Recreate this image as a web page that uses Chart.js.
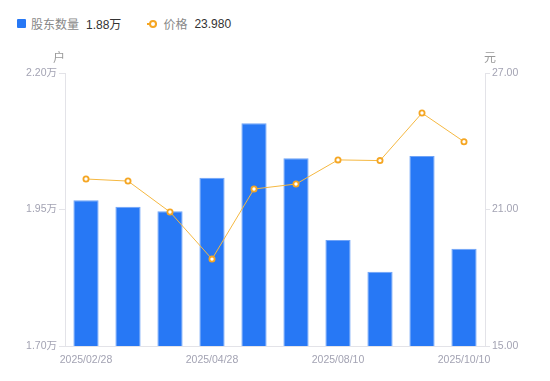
<!DOCTYPE html>
<html>
<head>
<meta charset="utf-8">
<script src="https://cdn.jsdelivr.net/npm/chart.js@4/dist/chart.umd.min.js"></script>
<style>
    html, body { margin: 0; padding: 0; background: #fff; }
    body { width: 550px; height: 381px; position: relative; overflow: hidden;
           font-family: 'Liberation Sans', 'Noto Sans CJK SC', sans-serif; }
    #legend { position: absolute; left: 17px; top: 15px; font-size: 12px; display: flex; align-items: center; }
    #legend .item { display: flex; align-items: center; margin-right: 26px; }
    #legend .name { color: #888; margin-right: 7px; font-family: 'Noto Sans CJK SC', sans-serif; }
    #legend .val { color: #333; }
    #legend .sq { width: 9px; height: 9px; background: #2778F5; border-radius: 1px; margin-right: 5px; }
    #legend .ln { position: relative; width: 10px; height: 2px; background: #F5A623; margin-right: 6px; }
    #legend .ln::after { content: ''; position: absolute; left: 2px; top: -3px; width: 4px; height: 4px;
           border: 2px solid #F5A623; border-radius: 50%; background: #fff; }
    #wrap { position: absolute; left: 0; top: 0; width: 550px; height: 381px; }
</style>
</head>
<body>
<div id="legend">
    <div class="item"><span class="sq"></span><span class="name">股东数量</span><span class="val">1.88万</span></div>
    <div class="item"><span class="ln"></span><span class="name">价格</span><span class="val">23.980</span></div>
</div>
<div id="wrap"><canvas id="chart"></canvas></div>
<script>
const DATES = ['2025/02/28', '2025/03/10', '2025/03/31', '2025/04/28', '2025/05/20',
               '2025/06/30', '2025/08/10', '2025/08/31', '2025/09/30', '2025/10/10'];
const HOLDERS = [1.967, 1.955, 1.947, 2.008, 2.108, 2.044, 1.894, 1.836, 2.048, 1.878];
const PRICES = [22.34, 22.25, 20.89, 18.82, 21.90, 22.12, 23.18, 23.15, 25.24, 23.98];
const SHOWN_LABELS = [0, 3, 6, 9];
const LEFT_TICKS = [1.70, 1.95, 2.20];
const RIGHT_TICKS = [15, 21, 27];

const AXIS_COLOR = '#E3E3E8';
const TICK_COLOR = '#A3A3B3';
const FONT = { family: '"Liberation Sans", "Noto Sans CJK SC", sans-serif', size: 10.5 };

const unitTitles = {
    id: 'unitTitles',
    afterDraw(chart) {
        let ctx = chart.ctx;
        ctx.save();
        ctx.fillStyle = '#999';
        ctx.font = '12px "Noto Sans CJK SC", sans-serif';
        ctx.textBaseline = 'middle';
        ctx.textAlign = 'center';
        ctx.fillText('户', chart.chartArea.left - 6, 57);
        ctx.fillText('元', chart.chartArea.right + 5, 57);
        ctx.restore();
    }
};

new Chart(document.getElementById('chart'), {
    plugins: [unitTitles],
    data: {
        labels: DATES,
        datasets: [
            {
                type: 'line',
                label: '价格',
                data: PRICES,
                yAxisID: 'y1',
                borderColor: '#F5B841',
                borderWidth: 1,
                pointRadius: 2.6,
                pointBorderWidth: 1.8,
                pointBackgroundColor: '#fff',
                pointBorderColor: '#F5A623',
                tension: 0,
                order: 0
            },
            {
                type: 'bar',
                label: '股东数量',
                data: HOLDERS,
                yAxisID: 'y',
                backgroundColor: '#2778F5',
                borderColor: '#6FA3F7',
                borderWidth: 1,
                barPercentage: 0.6,
                categoryPercentage: 1,
                order: 1
            }
        ]
    },
    options: {
        responsive: true,
        maintainAspectRatio: false,
        animation: false,
        layout: { padding: { top: 73, left: 0, right: 0, bottom: 0 } },
        plugins: { legend: false, tooltip: false },
        scales: {
            x: {
                grid: { display: false },
                border: { color: AXIS_COLOR },
                ticks: {
                    autoSkip: false,
                    maxRotation: 0,
                    color: TICK_COLOR,
                    font: FONT,
                    padding: 0,
                    callback: (value, idx) => SHOWN_LABELS.includes(idx) ? DATES[idx] : ''
                },
                afterFit: scale => { scale.height = 35; }
            },
            y: {
                position: 'left',
                min: 1.70,
                max: 2.20,
                border: { color: AXIS_COLOR },
                grid: { drawOnChartArea: false, tickLength: 6, color: AXIS_COLOR },
                afterBuildTicks: scale => { scale.ticks = LEFT_TICKS.map(v => ({ value: v })); },
                ticks: {
                    color: TICK_COLOR,
                    font: FONT,
                    padding: 2,
                    callback: v => v.toFixed(2) + '万'
                },
                afterFit: scale => { scale.width = 65; }
            },
            y1: {
                position: 'right',
                min: 15,
                max: 27,
                border: { color: AXIS_COLOR },
                grid: { drawOnChartArea: false, tickLength: 5, color: AXIS_COLOR },
                afterBuildTicks: scale => { scale.ticks = RIGHT_TICKS.map(v => ({ value: v })); },
                ticks: {
                    color: TICK_COLOR,
                    font: FONT,
                    padding: 2,
                    callback: v => v.toFixed(2)
                },
                afterFit: scale => { scale.width = 65; }
            }
        }
    }
});
</script>
</body>
</html>
